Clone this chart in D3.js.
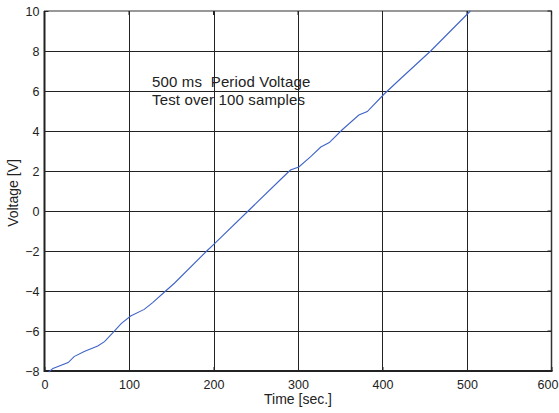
<!DOCTYPE html>
<html><head><meta charset="utf-8">
<script src="https://cdn.jsdelivr.net/npm/d3@7"></script>
<style>
html,body{margin:0;padding:0;background:#fff;}
svg{display:block;font-family:"Liberation Sans",Arial,sans-serif;}
</style></head>
<body>
<svg id="c" width="559" height="413"></svg>
<script>
const timeValues = [5,10,28,35,47,63,71,81,91,102,118,128,142,154,192,200,241,280,291,301,315,327,337,352,372,382,402,421,457,504];
const voltageValues = [-8.05,-7.87,-7.58,-7.28,-7.03,-6.75,-6.53,-6.08,-5.62,-5.25,-4.92,-4.58,-4.05,-3.6,-2.0,-1.68,0.0,1.6,2.05,2.2,2.72,3.2,3.42,4.05,4.8,4.97,5.85,6.6,8.0,10.0];
const xTicks = [0,100,200,300,400,500,600];
const yTicks = [-8,-6,-4,-2,0,2,4,6,8,10];
const annotation = ["500 ms  Period Voltage","Test over 100 samples"];
const xLabel = "Time [sec.]";
const yLabel = "Voltage [V]";

const svg = d3.select("#c");
const L=44.5, R=551.5, T=11, B=371;
const x = d3.scaleLinear().domain([0,600]).range([L,R]);
const y = d3.scaleLinear().domain([-8,10]).range([B,T]);
const FONT = "Liberation Sans, Arial, sans-serif";

// grid
svg.append("g").selectAll("line").data(xTicks.slice(1,-1)).join("line")
  .attr("x1",d=>Math.round(x(d))+0.5).attr("x2",d=>Math.round(x(d))+0.5)
  .attr("y1",T).attr("y2",B).attr("stroke","#222").attr("stroke-width",1);
svg.append("g").selectAll("line").data(yTicks.slice(1,-1)).join("line")
  .attr("y1",d=>Math.round(y(d))+0.5).attr("y2",d=>Math.round(y(d))+0.5)
  .attr("x1",L).attr("x2",R).attr("stroke","#222").attr("stroke-width",1);

// frame
svg.append("rect").attr("x",L).attr("y",T).attr("width",R-L).attr("height",B-T)
  .attr("fill","none").attr("stroke","#333").attr("stroke-width",1);
svg.append("line").attr("x1",L).attr("x2",L).attr("y1",T).attr("y2",B+1).attr("stroke","#222").attr("stroke-width",2);
svg.append("line").attr("x1",L).attr("x2",R+1).attr("y1",B).attr("y2",B).attr("stroke","#222").attr("stroke-width",2);
svg.append("line").attr("x1",R).attr("x2",R).attr("y1",T).attr("y2",B).attr("stroke","#333").attr("stroke-width",1.5);

// axes (labels + inward ticks)
const xAxis = d3.axisBottom(x).tickValues(xTicks).tickSize(-4).tickPadding(9).tickFormat(d3.format("d"));
const gx = svg.append("g").attr("transform",`translate(0,${B})`).call(xAxis);
gx.select(".domain").remove();
gx.selectAll("text").attr("font-size",12.5).attr("fill","#222").attr("font-family",FONT)
  .attr("dx",d=>d===600?-4:0);
gx.selectAll("line").attr("stroke","#222");

const yAxis = d3.axisLeft(y).tickValues(yTicks).tickSize(-4).tickPadding(5).tickFormat(d3.format("d"));
const gy = svg.append("g").attr("transform",`translate(${L},0)`).call(yAxis);
gy.select(".domain").remove();
gy.selectAll("text").attr("font-size",12.5).attr("fill","#222").attr("font-family",FONT);
gy.selectAll("line").attr("stroke","#222");

// right/top ticks
svg.append("g").selectAll("line").data(yTicks).join("line")
  .attr("x1",R).attr("x2",R-4).attr("y1",d=>y(d)).attr("y2",d=>y(d)).attr("stroke","#222");
svg.append("g").selectAll("line").data(xTicks).join("line")
  .attr("y1",T).attr("y2",T+4).attr("x1",d=>x(d)).attr("x2",d=>x(d)).attr("stroke","#222");

// data line
const pts = timeValues.map((t,i)=>[t,voltageValues[i]]);
svg.append("path").datum(pts)
  .attr("d",d3.line().x(d=>x(d[0])).y(d=>y(d[1])))
  .attr("fill","none").attr("stroke","#3f63c8").attr("stroke-width",1.1);

// annotation
svg.append("g").selectAll("text").data(annotation).join("text")
  .attr("x",152).attr("y",(d,i)=>87+i*18).attr("font-size",15).attr("fill","#222")
  .attr("letter-spacing",0.15)
  .attr("xml:space","preserve").style("white-space","pre").text(d=>d);

// axis labels
svg.append("text").attr("x",(L+R)/2).attr("y",404).attr("text-anchor","middle")
  .attr("font-size",14).attr("fill","#222").text(xLabel);
svg.append("text").attr("transform",`translate(18,${(T+B)/2+2}) rotate(-90)`).attr("text-anchor","middle")
  .attr("font-size",14).attr("fill","#222").text(yLabel);
</script>
</body></html>
